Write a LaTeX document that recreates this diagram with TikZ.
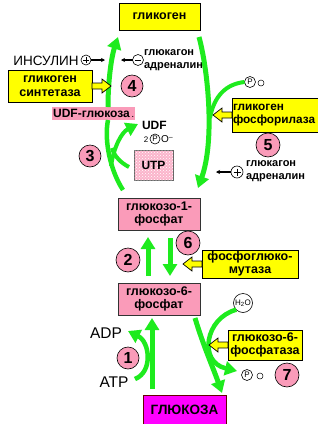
\documentclass[tikz,border=0pt]{standalone}
\usepackage{fontspec}
\setmainfont{Liberation Sans}
\usetikzlibrary{arrows.meta,patterns}
\definecolor{yel}{RGB}{255,255,0}
\definecolor{pnk}{RGB}{250,155,185}
\definecolor{mag}{RGB}{255,0,255}
\definecolor{grn}{RGB}{30,235,30}
\begin{document}
\begin{tikzpicture}[x=1pt,y=-1pt,
 every node/.style={inner sep=0pt, outer sep=0pt},
 ybox/.style={draw=black, line width=0.8pt, fill=yel, align=center, font=\bfseries\fontsize{12.5}{13.5}\selectfont},
 pbox/.style={draw=black!80, line width=0.6pt, fill=pnk, align=center, font=\bfseries\fontsize{12.5}{13.5}\selectfont},
 num/.style={circle, draw=black, line width=0.6pt, fill=pnk, minimum size=#1, font=\bfseries\fontsize{16}{16}\selectfont},
 num/.default=22pt,
 garrow/.style={draw=grn, line width=5pt, -{Triangle[length=12pt,width=14pt]}},
 gline/.style={draw=grn, line width=4.5pt},
 small/.style={font=\bfseries\fontsize{11}{12.5}\selectfont, align=left},
 pcirc/.style={circle, draw=black, line width=0.6pt, minimum size=11pt, font=\fontsize{8}{8}\selectfont},
 ocirc/.style={circle, draw=black, line width=0.5pt, minimum size=6pt},
 thinarrow/.style={draw=black, line width=1.1pt, -{Stealth[length=4pt,width=4pt]}},
 yarr/.pic={\draw[black, line width=0.7pt, fill=yel] (0,-3) -- (10,-3) -- (10,-7) -- (19,0) -- (10,7) -- (10,3) -- (0,3) -- cycle;}
]
\fill[white] (0,0) rectangle (318,424);
\useasboundingbox (0,0) rectangle (318,424);

% boxes
\node[ybox, minimum width=81pt, minimum height=27pt] (glyc) at (159.5,16.5) {гликоген};
\node[ybox, minimum width=84pt, minimum height=32pt] (synt) at (50,86) {гликоген\\синтетаза};
\node[ybox, anchor=north west, minimum height=34pt, text width=85pt, align=left, inner xsep=1pt, font=\bfseries\fontsize{11.8}{13.5}\selectfont] (phos) at (232,98) {гликоген\\фосфорилаза};
\node[pbox, minimum width=82pt, minimum height=32pt] (g1p) at (159,214) {глюкозо-1-\\фосфат};
\node[pbox, minimum width=82pt, minimum height=32pt] (g6p) at (159,299) {глюкозо-6-\\фосфат};
\node[ybox, minimum width=96pt, minimum height=28pt] (mut) at (250,264) {фосфоглюко-\\мутаза};
\node[ybox, minimum width=74pt, minimum height=30pt] (g6pase) at (265,345) {глюкозо-6-\\фосфатаза};
\node[draw=black!60!red, line width=0.8pt, fill=mag, minimum width=83pt, minimum height=30pt, font=\bfseries\fontsize{13.5}{14}\selectfont] (glc) at (184.5,410) {ГЛЮКОЗА};
\node[fill=pnk, minimum width=83pt, minimum height=13pt, font=\bfseries\fontsize{12}{12}\selectfont] (udpg) at (93.5,113.5) {UDF-глюкоза\,{\fontsize{7}{7}\selectfont.}};
\node[draw=black!60, line width=0.6pt, fill=pnk!75, postaction={pattern=crosshatch dots, pattern color=white}, minimum width=39pt, minimum height=30pt, font=\bfseries\fontsize{12}{12}\selectfont] (utp) at (153.5,165) {UTP};

% numbers
\node[num] (n4) at (132,86) {4};
\node[num] (n3) at (90,156) {3};
\node[num=24pt] (n5) at (268,145) {5};
\node[num=24pt] (n2) at (128,260) {2};
\node[num=24pt] (n6) at (188,243) {6};
\node[num] (n1) at (128,358) {1};
\node[num=24pt] (n7) at (287,375) {7};

% small labels
\node[font=\fontsize{13.5}{14}\selectfont] (ins) at (46,61) {ИНСУЛИН};
\node[circle, draw, line width=0.6pt, minimum size=10pt] (insc) at (86,60) {};
\draw[line width=0.6pt] (insc.center) +(-3,0) -- +(3,0) (insc.center) +(0,-3) -- +(0,3);
\coordinate (insend) at (105,60);
\draw[thinarrow] (insc.east) -- (insend);
\node[circle, draw, line width=0.6pt, minimum size=11pt] (gc1) at (138,60) {};
\draw[line width=0.8pt] (gc1.center) +(-3,0) -- +(3,0);
\coordinate (gc1end) at (121,60);
\draw[thinarrow] (gc1.west) -- (gc1end);
\node[small, anchor=west] (gl1) at (144,60) {глюкагон\\адреналин};

\node[circle, draw, line width=0.6pt, minimum size=12pt] (gc2) at (237,172) {};
\draw[line width=0.7pt] (gc2.center) +(-3.5,0) -- +(3.5,0) (gc2.center) +(0,-3.5) -- +(0,3.5);
\coordinate (gc2end) at (216,172);
\draw[thinarrow] (gc2.west) -- (gc2end);
\node[small, anchor=west] (gl2) at (246,171) {глюкагон\\адреналин};

\node[pcirc] (pP1) at (250,82) {P};
\node[ocirc] (o1) at (261,83) {};
\node[pcirc] (pP2) at (247,375) {P};
\node[ocirc] (o2) at (260,376) {};
\node[font=\bfseries\fontsize{12}{12}\selectfont, anchor=west] (udf) at (142,125) {UDF};
\node[font=\fontsize{8}{8}\selectfont] (two) at (146,140) {2};
\node[pcirc, minimum size=10pt] (pP3) at (155,139) {P};
\node[font=\fontsize{10}{10}\selectfont, anchor=west] (om) at (161,139) {O\raisebox{3pt}{\fontsize{7}{7}\selectfont –}};
\node[circle, draw, line width=0.6pt, minimum size=19pt, font=\fontsize{8}{8}\selectfont] (h2o) at (243,303) {H\textsubscript{2}O};
\node[font=\fontsize{15.5}{16}\selectfont] (adp) at (106,333) {ADP};
\node[font=\fontsize{15.5}{16}\selectfont] (atp) at (114,382) {ATP};

% green arrows
\coordinate (tlend) at (118,37);
\draw[garrow] ([xshift=14.5pt]udpg.north) .. controls (108,78) and (112,55) .. (tlend);
\coordinate (trs) at (199,37);
\draw[garrow] (trs) .. controls (208,70) and (215,140) .. ([xshift=39pt,yshift=10pt]g1p.north);
\coordinate (trj) at (210,118);
\draw[gline, line width=4pt] (pP1.west) .. controls (226,84) and (214,96) .. (trj);

\draw[gline] ([xshift=-36pt,yshift=8pt]g1p.north) .. controls (110,170) and (104,140) .. ([xshift=14.5pt]udpg.south);
\coordinate (mlb) at (111,166);
\coordinate (udfend) at (138,124);
\draw[garrow, line width=4pt] (mlb) .. controls (114,146) and (122,132) .. (udfend);
\coordinate (utpin) at (129,167);
\coordinate (mlj) at (112,148);
\draw[gline, line width=4pt] (utpin) .. controls (121,163) and (114,156) .. (mlj);

\draw[garrow] ([xshift=-11pt,yshift=7pt]g6p.north) -- ([xshift=-11pt,yshift=-7pt]g1p.south);
\draw[garrow] ([xshift=11pt,yshift=-8pt]g1p.south) -- ([xshift=11pt,yshift=7pt]g6p.north);

\draw[garrow] ([xshift=36pt,yshift=-3pt]g6p.south) .. controls (203,345) and (214,370) .. ([xshift=37.5pt,yshift=2pt]glc.north);
\coordinate (pend) at (237,371);
\draw[garrow, line width=4.5pt] (h2o.south west) .. controls (205,318) and (198,362) .. (pend);

\draw[garrow] ([xshift=-32.5pt,yshift=6pt]glc.north) -- ([xshift=-7pt,yshift=-3pt]g6p.south);
\coordinate (atpS) at (135,379);
\coordinate (adpend) at (128,331);
\draw[garrow, line width=4.5pt] (atpS) .. controls (153,372) and (150,342) .. (adpend);

% enzyme pointers
\pic at (synt.east) {yarr};
\pic[rotate=180] at (phos.west) {yarr};
\pic[rotate=180] at (mut.west) {yarr};
\pic[rotate=180] at (g6pase.west) {yarr};
\end{tikzpicture}
\end{document}
